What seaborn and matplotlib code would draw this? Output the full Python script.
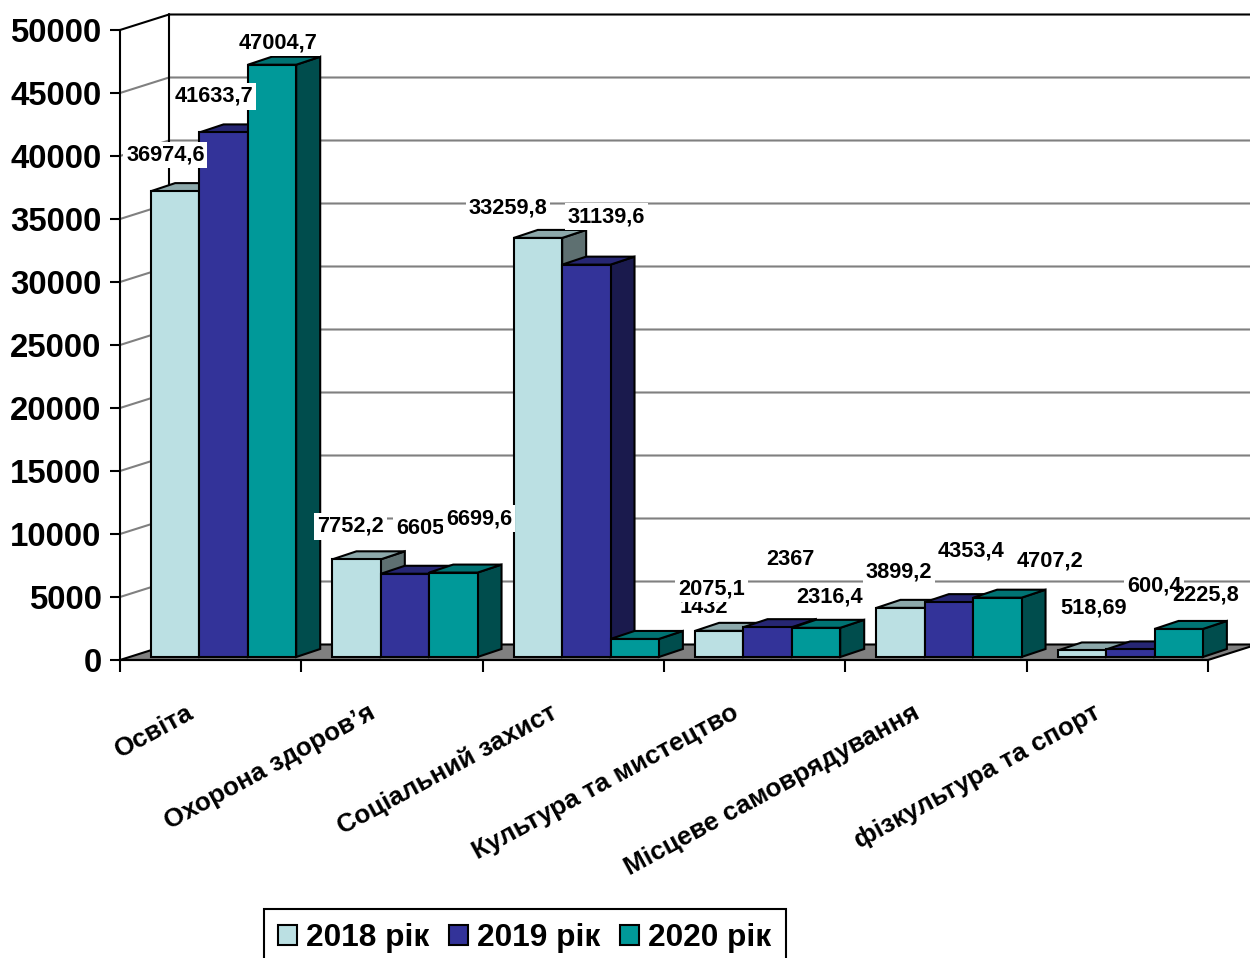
import pandas as pd
import seaborn as sns
import matplotlib.pyplot as plt
from matplotlib.patches import Polygon
from matplotlib.transforms import ScaledTranslation

# Values.
categories = ["Освіта", "Охорона здоров’я", "Соціальний захист",
              "Культура та мистецтво", "Місцеве самоврядування", "фізкультура та спорт"]
years = ["2018 рік", "2019 рік", "2020 рік"]
values_2018 = [36974.6, 7752.2, 33259.8, 2075.1, 3899.2, 518.69]
values_2019 = [41633.7, 6605, 31139.6, 2367, 4353.4, 600.4]
values_2020 = [47004.7, 6699.6, 1432, 2316.4, 4707.2, 2225.8]
y_ticks = [0, 5000, 10000, 15000, 20000, 25000, 30000, 35000, 40000, 45000, 50000]

# Colours and hand-placed label offsets (pixels, per year then per category).
colors = ["#BBE0E3", "#333399", "#009999"]
top_colors = ["#8CA8AA", "#262673", "#007373"]
side_colors = ["#5E7071", "#1A1A4D", "#004D4D"]
label_offsets = [
    [(-10, 36), (-6, 33), (-30, 30), (-8, 42), (-2, 36), (12, 42)],
    [(-10, 36), (15, 45), (20, 48), (23, 68), (22, 51), (24, 63)],
    [(6, 22), (26, 54), (69, 31), (14, 31), (53, 37), (27, 34)],
]

long = pd.DataFrame({
    "category": categories * 3,
    "year": [y for y in years for _ in categories],
    "value": values_2018 + values_2019 + values_2020,
})

sns.set_theme(style="white")
plt.rcParams["font.family"] = ["Liberation Sans", "DejaVu Sans"]
plt.rcParams["font.weight"] = "bold"

fig = plt.figure(figsize=(12.5, 9.58), dpi=100)
ax = fig.add_axes([120 / 1250, 1 - 660 / 958, 1088 / 1250, 630 / 958])

sns.barplot(data=long, x="category", y="value", hue="year", order=categories,
            hue_order=years, palette=colors, width=0.8, gap=0, errorbar=None,
            saturation=1, edgecolor="black", linewidth=1.5, ax=ax)
ax.set_xlim(-0.5, 5.5)
ax.set_ylim(0, 50000)

# pixel -> data conversions for the fake 3D depth
px_x = 6 / 1088
px_y = 50000 / 630
wall_dx, wall_dy = 49 * px_x, 15.5 * px_y
bar_dx, bar_dy = 24 * px_x, 8 * px_y
shift_x, shift_y = 13 * px_x, 3 * px_y

# Floor and back wall.
left, right = ax.get_xlim()
ax.add_patch(Polygon([(left, 0), (left + wall_dx, wall_dy), (right + wall_dx, wall_dy), (right, 0)],
                     closed=True, facecolor="#808080", edgecolor="black", linewidth=1.5,
                     zorder=1, clip_on=False))
for tick in y_ticks[1:-1]:
    ax.plot([left, left + wall_dx, right + wall_dx], [tick, tick + wall_dy, tick + wall_dy],
            color="#808080", linewidth=1.5, zorder=0.5, clip_on=False)
ax.plot([left, left + wall_dx, right + wall_dx], [y_ticks[-1], y_ticks[-1] + wall_dy, y_ticks[-1] + wall_dy],
        color="black", linewidth=1.5, zorder=0.6, clip_on=False)
ax.plot([left + wall_dx, left + wall_dx], [wall_dy, y_ticks[-1] + wall_dy],
        color="black", linewidth=1.5, zorder=0.6, clip_on=False)

# Move the bars onto the floor and give them top and side faces.
for s, container in enumerate(ax.containers[:3]):
    for c, bar in enumerate(container):
        order = c * 3 + s
        height = bar.get_height()
        bar.set_x(bar.get_x() + shift_x)
        bar.set_y(shift_y)
        bar.set_zorder(4 + 2 * order)
        bar.set_clip_on(False)
        x0 = bar.get_x()
        x1 = x0 + bar.get_width()
        y0, y1 = shift_y, shift_y + height
        ax.add_patch(Polygon([(x1, y0), (x1 + bar_dx, y0 + bar_dy), (x1 + bar_dx, y1 + bar_dy), (x1, y1)],
                             closed=True, facecolor=side_colors[s], edgecolor="black", linewidth=1.5,
                             zorder=3 + 2 * order, clip_on=False))
        ax.add_patch(Polygon([(x0, y1), (x0 + bar_dx, y1 + bar_dy), (x1 + bar_dx, y1 + bar_dy), (x1, y1)],
                             closed=True, facecolor=top_colors[s], edgecolor="black", linewidth=1.5,
                             zorder=3 + 2 * order, clip_on=False))
        # the last label has no white box so the 600,4 next to it stays readable
        box = dict(facecolor="white", edgecolor="none", pad=2) if order != 17 else None
        ax.annotate(str(height if height != int(height) else int(height)).replace(".", ","),
                    xy=(x0 + bar.get_width() / 2, y1), xytext=label_offsets[s][c],
                    textcoords="offset pixels", ha="center", va="center",
                    fontsize=15.7, fontweight="bold", color="black", zorder=100 + order,
                    annotation_clip=False, bbox=box)

# Axes: ticks between the categories, labels rotated under them.
sns.despine(ax=ax, top=True, right=True)
for side in ["left", "bottom"]:
    ax.spines[side].set_color("black")
    ax.spines[side].set_linewidth(1.5)
    ax.spines[side].set_zorder(2)
ax.set_xlabel("")
ax.set_ylabel("")
ax.set_yticks(y_ticks)
ax.tick_params(axis="y", length=7.2, width=1.5, color="black", left=True, pad=6, labelsize=23.8, labelcolor="black")
ax.set_xticks([i - 0.5 for i in range(7)], [""] * 7)
ax.tick_params(axis="x", which="major", length=8.5, width=1.5, color="black", bottom=True)
ax.set_xticks(range(6), categories, minor=True)
ax.tick_params(axis="x", which="minor", length=0, pad=29, labelsize=18.8, labelcolor="black")
label_shift = ScaledTranslation(-24 / 100, 0, fig.dpi_scale_trans)
for label in ax.get_xticklabels(minor=True):
    label.set_rotation(28.5)
    label.set_ha("right")
    label.set_rotation_mode("anchor")
    label.set_fontweight("bold")
    label.set_transform(label.get_transform() + label_shift)
for label in ax.get_yticklabels():
    label.set_fontweight("bold")

handles, labels = ax.get_legend_handles_labels()
leg = ax.legend(handles[:3], labels[:3], loc="upper left", bbox_to_anchor=(264 / 1250, 1 - 909 / 958),
                bbox_transform=fig.transFigure, ncol=3, fontsize=22.8, frameon=True, fancybox=False,
                edgecolor="black", framealpha=1, borderaxespad=0, handlelength=0.6, handleheight=0.62,
                handletextpad=0.28, columnspacing=0.63, borderpad=0.45, labelcolor="black")
leg.get_frame().set_linewidth(1.5)
for handle in leg.get_patches():
    handle.set_edgecolor("black")
    handle.set_linewidth(1.5)
leg.set_zorder(200)

fig.savefig("out.png", dpi=100)
